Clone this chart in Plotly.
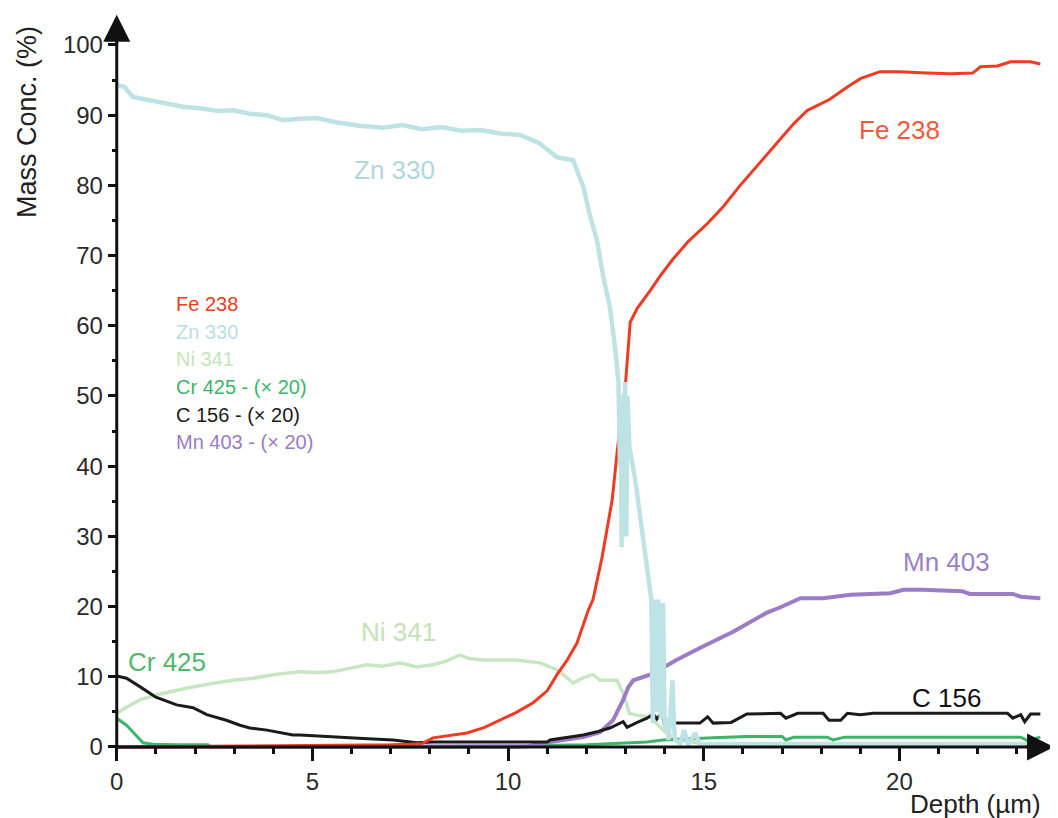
import plotly.graph_objects as go

# ---------------- data ----------------
fe_x = [0, 6.0, 6.5, 7.0, 7.5, 7.8, 8.08, 8.5, 8.95, 9.4, 9.8, 10.2, 10.64, 11.0, 11.25, 11.5, 11.76,
        12.05, 12.17, 12.4, 12.66, 12.8, 12.9, 13.0, 13.12, 13.3, 13.63, 13.9, 14.2, 14.6, 15.1, 15.5,
        15.93, 16.4, 16.96, 17.3, 17.65, 18.2, 18.67, 19.0, 19.5, 20.0, 20.7, 21.3, 21.87, 22.07, 22.5,
        22.84, 23.35, 23.6]
fe_y = [0, 0.2, 0.3, 0.3, 0.4, 0.5, 1.3, 1.6, 2.0, 2.8, 3.8, 4.9, 6.3, 8.0, 10.3, 12.3, 14.8,
        19.5, 21.0, 27.0, 35.2, 42.7, 47.0, 51.8, 60.5, 62.5, 65.0, 67.2, 69.4, 72.0, 74.6, 77.0,
        80.0, 83.0, 86.5, 88.8, 90.7, 92.2, 94.0, 95.2, 96.2, 96.2, 96.0, 95.9, 96.0, 96.9, 97.0,
        97.6, 97.6, 97.3]

zn_x = [0, 0.2, 0.41, 0.8, 1.28, 1.7, 2.12, 2.6, 2.97, 3.4, 3.84, 4.25, 4.7, 5.1, 5.6, 6.2, 6.8, 7.3,
        7.8, 8.3, 8.8, 9.3, 9.8, 10.3, 10.8, 11.25, 11.66, 11.8, 11.92, 12.1, 12.27, 12.43, 12.6, 12.74,
        12.82, 12.86, 12.88, 12.9, 12.93, 12.96, 12.99, 13.02, 13.05, 13.1, 13.25, 13.42, 13.55, 13.63,
        13.66, 13.7, 13.74, 13.8, 13.84, 13.9, 13.96, 14.0, 14.05, 14.1, 14.2, 14.24, 14.27, 14.4, 14.5,
        14.6, 14.78, 14.9, 15.5, 17.0, 19.0, 21.0, 23.6]
zn_y = [94.3, 94.0, 92.6, 92.2, 91.7, 91.2, 91.0, 90.6, 90.7, 90.2, 90.0, 89.3, 89.5, 89.6, 89.0, 88.5,
        88.2, 88.6, 88.0, 88.3, 87.8, 87.9, 87.4, 87.2, 86.0, 84.0, 83.6, 81.5, 79.8, 75.5, 72.2, 67.0,
        62.7, 56.6, 52.0, 40.0, 50.0, 28.5, 48.0, 35.0, 52.0, 30.0, 50.0, 42.7, 38.0, 30.9, 25.2, 21.9,
        21.0, 3.4, 21.0, 5.0, 21.0, 4.0, 20.5, 2.4, 4.0, 1.0, 9.5, 3.0, 1.0, 0.5, 2.4, 0.3, 2.0, 0.3,
        0.4, 0.3, 0.4, 0.3, 0.3]

ni_x = [0, 0.2, 0.59, 1.0, 1.4, 1.8, 2.4, 2.97, 3.5, 4.0, 4.68, 5.1, 5.5, 6.0, 6.4, 6.8, 7.24, 7.67,
        8.08, 8.4, 8.77, 9.0, 9.36, 9.8, 10.2, 10.64, 10.8, 11.25, 11.33, 11.66, 11.9, 12.17, 12.35,
        12.78, 12.94, 13.1, 13.3, 13.63, 13.96, 14.3, 15.0, 17.0, 20.0, 23.6]
ni_y = [4.8, 5.5, 6.7, 7.4, 7.9, 8.4, 9.0, 9.5, 9.8, 10.3, 10.7, 10.6, 10.7, 11.2, 11.7, 11.5, 12.0, 11.4,
        11.7, 12.2, 13.1, 12.6, 12.4, 12.4, 12.4, 12.1, 12.0, 11.0, 10.7, 9.1, 9.8, 10.3, 9.5,
        9.5, 7.7, 4.8, 4.5, 4.3, 2.4, 1.0, 0.5, 0.5, 0.5, 0.5]

cr_x = [0, 0.25, 0.42, 0.67, 0.93, 1.5, 2.33, 2.4, 10.2, 10.8, 12.0, 12.94, 13.55, 13.96, 14.6,
        15.24, 16.1, 17.0, 17.1, 17.3, 18.16, 18.3, 18.6, 20.0, 23.1, 23.27, 23.6]
cr_y = [4.1, 3.1, 2.1, 0.6, 0.4, 0.3, 0.3, 0.0, 0.0, 0.2, 0.3, 0.5, 0.7, 1.0, 1.1,
        1.3, 1.5, 1.5, 1.0, 1.4, 1.4, 1.0, 1.4, 1.4, 1.4, 0.9, 1.4]

c_x = [0, 0.25, 0.59, 1.0, 1.53, 1.95, 2.3, 2.8, 3.15, 3.4, 3.84, 4.5, 4.68, 5.5, 6.3, 7.06, 7.67,
       8.08, 9.0, 9.8, 10.2, 11.0, 11.07, 11.5, 11.92, 12.3, 12.6, 12.94, 13.04, 13.3, 13.55, 13.71,
       13.8, 13.9, 13.94, 14.0, 14.07, 14.3, 14.6, 14.9, 15.1, 15.24, 15.7, 16.1, 16.96, 17.1, 17.4,
       18.05, 18.2, 18.5, 18.67, 19.0, 19.33, 21.0, 22.76, 22.9, 23.1, 23.2, 23.35, 23.6]
c_y = [10.1, 9.8, 8.6, 7.1, 6.0, 5.6, 4.6, 3.8, 3.1, 2.7, 2.4, 1.7, 1.7, 1.4, 1.2, 1.0, 0.6,
       0.7, 0.7, 0.7, 0.6, 0.7, 1.0, 1.3, 1.7, 2.2, 2.7, 3.6, 2.8, 3.5, 4.1, 4.7,
       4.0, 4.7, 4.8, 2.9, 3.8, 3.4, 3.4, 3.4, 4.3, 3.4, 3.5, 4.7, 4.8, 4.1, 4.8,
       4.8, 3.8, 3.8, 4.8, 4.6, 4.8, 4.8, 4.8, 4.1, 4.6, 3.6, 4.7, 4.7]

mn_x = [0, 10.5, 11.07, 11.5, 11.92, 12.35, 12.68, 12.94, 13.07, 13.2, 13.63, 13.96, 14.3, 14.9,
        15.75, 16.6, 16.96, 17.47, 18.05, 18.75, 19.77, 20.1, 20.6, 21.6, 21.8, 22.9, 23.1, 23.6]
mn_y = [0, 0.1, 0.7, 1.0, 1.4, 2.1, 3.8, 6.7, 8.5, 9.5, 10.3, 11.3, 12.4, 14.1,
        16.4, 19.1, 19.9, 21.2, 21.2, 21.7, 21.9, 22.4, 22.4, 22.2, 21.8, 21.8, 21.4, 21.2]

legend_labels = ["Fe 238", "Zn 330", "Ni 341", "Cr 425 - (× 20)", "C 156 - (× 20)", "Mn 403 - (× 20)"]
curve_labels = ["Fe 238", "Zn 330", "Ni 341", "Cr 425", "C 156", "Mn 403"]
x_ticks = [0, 5, 10, 15, 20]
y_ticks = [0, 10, 20, 30, 40, 50, 60, 70, 80, 90, 100]

# ---------------- styling ----------------
FE = "#ef3b23"
ZN = "#bde3e5"
NI = "#c7e6c2"
CR = "#3db46a"
CC = "#1b1b1b"
MN = "#9a7dc6"

XMIN, XMAX = -0.3, 24.0
YMIN, YMAX = -1.0, 104.7

# page offset of the figure (body margin)
OFF = 8
W, H = 1050, 810
ML, MR, MT, MB = 97, 2, 4, 64

fig = go.Figure()

def add(x, y, color, width):
    fig.add_trace(go.Scatter(x=x, y=y, mode="lines", line=dict(color=color, width=width),
                             showlegend=False, hoverinfo="skip"))

add(ni_x, ni_y, NI, 3.5)
add(cr_x, cr_y, CR, 3)
add(mn_x, mn_y, MN, 4)
add(c_x, c_y, CC, 3)
add(fe_x, fe_y, FE, 3)
add(zn_x, zn_y, ZN, 4.5)

FONT = "Liberation Sans, Arial, sans-serif"

fig.update_layout(
    width=W, height=H,
    margin=dict(l=ML, r=MR, t=MT, b=MB),
    paper_bgcolor="white", plot_bgcolor="white",
    showlegend=False,
    font=dict(family=FONT, size=24, color="#2a2a2a"),
    xaxis=dict(range=[XMIN, XMAX], showgrid=False, zeroline=False, showline=False,
               anchor="free", position=(0 - YMIN) / (YMAX - YMIN),
               tickmode="array", tickvals=x_ticks, ticktext=[str(v) for v in x_ticks],
               ticks="outside", ticklen=13, tickwidth=3, tickcolor="#111",
               tickfont=dict(family=FONT, size=24, color="#2a2a2a"),
               minor=dict(dtick=1, tick0=0, ticks="outside", ticklen=6, tickwidth=3, tickcolor="#111",
                          showgrid=False)),
    yaxis=dict(range=[YMIN, YMAX], showgrid=False, zeroline=False, showline=False,
               anchor="free", position=(0 - XMIN) / (XMAX - XMIN),
               tickmode="array", tickvals=y_ticks, ticktext=[str(v) for v in y_ticks],
               ticks="outside", ticklen=9, tickwidth=3, tickcolor="#111",
               tickfont=dict(family=FONT, size=24, color="#2a2a2a"),
               minor=dict(dtick=5, tick0=0, ticks="outside", ticklen=5, tickwidth=3, tickcolor="#111",
                          showgrid=False)),
)

# axis lines with arrow heads
fig.add_shape(type="line", x0=0, x1=0, y0=0, y1=101.5, xref="x", yref="y",
              line=dict(color="#111", width=3))
fig.add_shape(type="line", x0=0, x1=23.7, y0=0, y1=0, xref="x", yref="y",
              line=dict(color="#111", width=3))
fig.add_annotation(x=0, y=104.3, ax=0, ay=100, xref="x", yref="y", axref="x", ayref="y",
                   showarrow=True, arrowhead=2, arrowsize=1.8, arrowwidth=3, arrowcolor="#111", text="")
fig.add_annotation(x=23.95, y=0, ax=23.2, ay=0, xref="x", yref="y", axref="x", ayref="y",
                   showarrow=True, arrowhead=2, arrowsize=1.8, arrowwidth=3, arrowcolor="#111", text="")


def px_to_paper(px, py):
    # px, py: page pixel positions in the reference picture
    fx, fy = px - OFF, py - OFF
    w, h = W - ML - MR, H - MT - MB
    return (fx - ML) / w, 1 - (fy - MT) / h


# axis titles
tx, ty = px_to_paper(27, 122)
fig.add_annotation(x=tx, y=ty, xref="paper", yref="paper", text="Mass Conc. (%)", showarrow=False,
                   textangle=-90, xanchor="center", yanchor="middle",
                   font=dict(family=FONT, size=27, color="#222"))

dx, dy = px_to_paper(1043, 804)
fig.add_annotation(x=dx, y=dy, xref="paper", yref="paper", text="Depth (µm)", showarrow=False,
                   xanchor="right", yanchor="middle", font=dict(family=FONT, size=26, color="#222"))

# legend-like text block
leg_colors = [FE, "#b8dfe2", "#c4e4bc", CR, CC, MN]
leg_py = [304, 332, 359, 387, 415, 442]
for lab, col, py in zip(legend_labels, leg_colors, leg_py):
    lx, ly = px_to_paper(174, py)
    fig.add_annotation(x=lx, y=ly, xref="paper", yref="paper", text=lab, showarrow=False,
                       xanchor="left", yanchor="middle", font=dict(family=FONT, size=20, color=col))

# curve labels
lab_pos = [(20.0, 87.9), (7.1, 82.2), (7.2, 16.4), (1.28, 12.1), (21.2, 7.0), (21.2, 26.4)]
lab_cols = ["#ef5a3c", "#aed8dc", "#c5e2b6", "#4fb868", "#111111", "#9c80c8"]
for lab, (lx, ly), col in zip(curve_labels, lab_pos, lab_cols):
    fig.add_annotation(x=lx, y=ly, xref="x", yref="y", text=lab, showarrow=False,
                       font=dict(family=FONT, size=26, color=col))

fig.write_html("out.html")
